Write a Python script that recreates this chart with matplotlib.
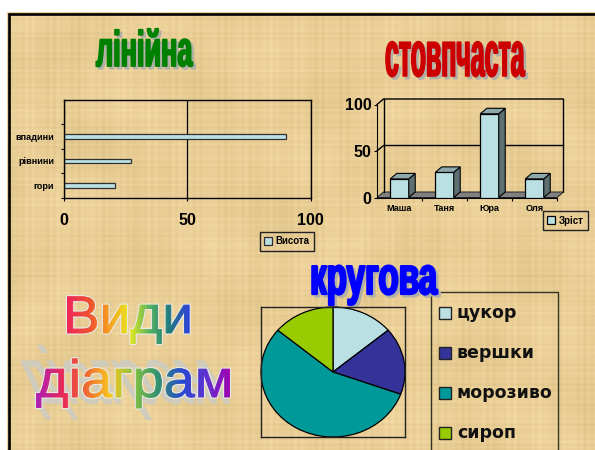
import numpy as np
import matplotlib
matplotlib.use('Agg')
import matplotlib.pyplot as plt
from matplotlib.colors import LinearSegmentedColormap
from matplotlib.patches import Polygon, Rectangle
from matplotlib.patheffects import AbstractPathEffect
from matplotlib.transforms import Affine2D, Bbox

plt.rcParams['font.family'] = ['Liberation Sans', 'DejaVu Sans']
plt.rcParams['font.weight'] = 'bold'

# bar chart
relief = ['гори', 'рівнини', 'впадини', '']
height_vals = [20.5, 27, 90, 0]
# column chart
names = ['Маша', 'Таня', 'Юра', 'Оля']
age_vals = [20, 27, 90, 20]
# pie chart
pie_labels = ['цукор', 'вершки', 'морозиво', 'сироп']
pie_vals = [5, 6, 20, 5]
pie_colors = ['#BBE0E3', '#333399', '#009999', '#99CC00']

LIGHT = '#BBE0E3'
W, H = 595, 450


class Stretch(AbstractPathEffect):
    # squeezes/offsets the text path, optional stroke to fatten it
    def __init__(self, sx=1, shear=0, sy=1, dx=0, dy=0, color=None, lw=0):
        self.sx, self.shear, self.sy = sx, shear, sy
        self.dx, self.dy = dx, dy
        self.color, self.lw = color, lw

    def moved(self, affine):
        x, y = affine.get_matrix()[:2, 2]
        m = Affine2D().translate(-x, -y)
        m = m + Affine2D([[self.sx, self.shear, 0], [0, self.sy, 0], [0, 0, 1]])
        return affine + m + Affine2D().translate(x + self.dx, y + self.dy)

    def draw_path(self, renderer, gc, tpath, affine, rgbFace=None):
        gc0 = renderer.new_gc()
        gc0.copy_properties(gc)
        col = matplotlib.colors.to_rgb(self.color) if self.color else rgbFace
        gc0.set_foreground(col)
        gc0.set_linewidth(self.lw)
        renderer.draw_path(gc0, tpath, self.moved(affine), col)
        gc0.restore()


class Rainbow(Stretch):
    # fills the text with a left to right gradient, one clip strip at a time
    def __init__(self, stops, sx=1, lw=0.7):
        super().__init__(sx=sx, lw=lw)
        self.cmap = LinearSegmentedColormap.from_list('rb', stops)

    def draw_path(self, renderer, gc, tpath, affine, rgbFace=None):
        aff = self.moved(affine)
        box = tpath.transformed(aff).get_extents()
        edges = np.arange(box.x0 - 2, box.x1 + 2, 2.0)
        for x0 in edges:
            gc0 = renderer.new_gc()
            gc0.copy_properties(gc)
            col = self.cmap(np.clip((x0 - box.x0) / box.width, 0, 1))[:3]
            gc0.set_foreground(col)
            gc0.set_linewidth(self.lw)
            gc0.set_clip_rectangle(Bbox([[x0, box.y0 - 3], [x0 + 2, box.y1 + 3]]))
            renderer.draw_path(gc0, tpath, aff, col)
            gc0.restore()


def px_axes(x0, y0, x1, y1):
    return fig.add_axes([x0 / W, 1 - y1 / H, (x1 - x0) / W, (y1 - y0) / H])


fig = plt.figure(figsize=(5.95, 4.5), dpi=100, facecolor='white')

# page background, papyrus-like weave
bg = fig.add_axes([0, 0, 1, 1])
xx, yy = np.meshgrid(np.arange(W), np.arange(H))
weave = (np.sin(xx * 0.9) * np.sin(xx * 0.13 + 1) + np.sin(yy * 1.1) * np.sin(yy * 0.17 + 2)) * 3.5
lumps = (np.sin(xx * 0.047 + 2 * np.sin(yy * 0.02)) + np.sin(yy * 0.061 + 2 * np.sin(xx * 0.017))
         + np.sin(xx * 0.21 + 1.3) * 0.7 + np.sin(yy * 0.29) * 0.6) * 2.2
shade = (weave + lumps)[..., None]
tex = np.clip(np.array([233, 206, 150]) + shade * np.array([1, 1.05, 1.35]), 0, 255).astype(np.uint8)
bg.imshow(tex, extent=(0, W, H, 0), aspect='auto', interpolation='bilinear')
bg.set_xlim(0, W)
bg.set_ylim(H, 0)
bg.axis('off')
bg.add_patch(Rectangle((0, 0), W, 12, color='white', lw=0))
bg.add_patch(Rectangle((0, 0), 7, H, color='white', lw=0))
bg.plot([8.5, 8.5, W], [H, 13.5, 13.5], color='black', lw=1.9, solid_joinstyle='miter')

# word art headings, small font size stretched up so the boxes stay on the page
def heading(x, y, s, size, sx, color, lw):
    t = bg.text(x, y, s, fontsize=size, color=color, ha='left', va='baseline')
    t.set_path_effects([Stretch(sx=sx, sy=2, dx=2.5, dy=-2.5, color='#b0b0a8', lw=lw),
                        Stretch(sx=sx, sy=2, color=color, lw=lw)])


heading(96, 66, 'лінійна', 18, 1.08, '#008000', 1.3)
heading(385, 76, 'стовпчаста', 23, 0.78, '#CC0000', 1.2)
heading(310, 294, 'кругова', 19, 1.26, '#0000FF', 1.6)

rb1 = ['#F02858', '#F05030', '#F8A020', '#E8E820', '#50B060', '#207880', '#3040E0']
rb2 = ['#B020B0', '#E82858', '#F06830', '#F8C820', '#80C040', '#309070', '#2848D0', '#6030D0', '#A000B0']
t = bg.text(63, 333, 'Види', fontsize=38, fontweight='normal', color='#e8e8e0', va='baseline')
t.set_path_effects([Stretch(sx=1.04, color='#e8e8e0', lw=2.4), Rainbow(rb1, sx=1.04)])
t = bg.text(36, 397, 'діаграм', fontsize=38, fontweight='normal', color='#e8e8e0', va='baseline')
t.set_path_effects([Stretch(sx=1.06, shear=-0.9, sy=1.5, dy=-6, color='#cfcbbd', lw=1.0),
                    Stretch(sx=1.06, color='#e8e8e0', lw=2.4), Rainbow(rb2, sx=1.06)])


def box_legend(ax, handles, labels, cx, cy):
    ax.legend(handles, labels, loc='center', bbox_to_anchor=(cx / W, 1 - cy / H),
              bbox_transform=fig.transFigure, fontsize=7, frameon=True, fancybox=False,
              facecolor='none', framealpha=1, edgecolor='#222222', handlelength=0.8,
              handleheight=0.8, handletextpad=0.4, borderpad=0.45, borderaxespad=0)


# horizontal bars
ax = px_axes(64, 100, 310.5, 197.5)
ax.patch.set_alpha(0)
ypos = np.arange(len(relief))
bars = ax.barh(ypos, height_vals, height=0.2, color=LIGHT, edgecolor='#303030', linewidth=0.9,
               label='Висота')
ax.set_xlim(0, 100)
ax.set_ylim(-0.5, 3.5)
ax.set_xticks([0, 50, 100])
ax.set_yticks(ypos[:3])
ax.set_yticklabels(relief[:3], fontsize=6.6)
ax.set_yticks(list(ypos[:-1] - 0.5) + [2.5], minor=True)
ax.tick_params(axis='y', which='major', length=0, pad=7)
ax.tick_params(axis='y', which='minor', length=2, width=0.8)
ax.tick_params(axis='x', labelsize=11.5, length=2, width=0.8, pad=9)
ax.grid(axis='x', color='black', lw=0.9)
ax.set_axisbelow(True)
for s in ax.spines.values():
    s.set_linewidth(1.0)
box_legend(ax, [bars], ['Висота'], 287, 241.5)

# 3d looking columns
ax = px_axes(377, 104.5, 557, 197.5)
ax.patch.set_alpha(0)
ax.set_xlim(-0.5, 3.5)
ax.set_ylim(0, 100)
dx, dy = 6.5 / 45, 5.5 / 0.93
back = dict(color='black', lw=1.0, clip_on=False)
ax.add_patch(Polygon([(-0.5, 0), (-0.5 + dx, dy), (3.5 + dx, dy), (3.5, 0)], closed=True,
                     facecolor='#808080', edgecolor='#222222', lw=0.7, clip_on=False))
ax.plot([-0.5, -0.5 + dx, 3.5 + dx, 3.5 + dx], [100, 100 + dy, 100 + dy, dy], **back)
ax.plot([-0.5, -0.5 + dx, 3.5 + dx], [50, 50 + dy, 50 + dy], **back)
ax.plot([-0.5 + dx, -0.5 + dx], [dy, 100 + dy], **back)
xpos = np.arange(len(names))
bw = 0.41
cols = ax.bar(xpos, age_vals, width=bw, color=LIGHT, edgecolor='black', linewidth=0.9, zorder=3)
for x, v in zip(xpos, age_vals):
    l, r = x - bw / 2, x + bw / 2
    ax.add_patch(Polygon([(r, 0), (r + dx, dy), (r + dx, v + dy), (r, v)], closed=True,
                         facecolor='#5E7072', edgecolor='black', lw=0.8, zorder=3, clip_on=False))
    ax.add_patch(Polygon([(l, v), (l + dx, v + dy), (r + dx, v + dy), (r, v)], closed=True,
                         facecolor='#8CA8AA', edgecolor='black', lw=0.8, zorder=3, clip_on=False))
ax.set_xticks(xpos)
ax.set_xticklabels(names, fontsize=6.6)
ax.set_xticks(list(xpos + 0.5), minor=True)
ax.set_yticks([0, 50, 100])
ax.tick_params(axis='x', which='major', length=0, pad=5)
ax.tick_params(axis='x', which='minor', length=2, width=0.8)
ax.tick_params(axis='y', labelsize=11.5, length=2, width=0.8, pad=2)
ax.spines['top'].set_visible(False)
ax.spines['right'].set_visible(False)
box_legend(ax, [cols], ['Зріст'], 565.5, 220.5)

# pie
ax = px_axes(261, 307, 405, 437)
ax.patch.set_alpha(0)
ax.pie(pie_vals, colors=pie_colors, startangle=90, counterclock=False,
       wedgeprops=dict(edgecolor='black', linewidth=0.9))
ax.set_aspect('auto')
ax.set_xlim(-1, 1)
ax.set_ylim(-1, 1)
ax.set_frame_on(True)
ax.axis('on')
ax.set_xticks([])
ax.set_yticks([])
for s in ax.spines.values():
    s.set_linewidth(1.0)
    s.set_edgecolor('#222222')

# pie legend, its box runs off the page
bg.plot([430.5, 430.5, 558, 558], [H, 292, 292, H], color='#333322', lw=1.0)
for i, (name, col) in enumerate(zip(pie_labels, pie_colors)):
    y = 313 + i * 40
    bg.add_patch(Rectangle((438.5, y - 6.5), 12, 12, facecolor=col, edgecolor='#222222', lw=1.0))
    bg.text(457, y + 5, name, fontsize=12.5, family='DejaVu Sans', color='#111111', va='baseline')

fig.savefig('out.png', dpi=100)
